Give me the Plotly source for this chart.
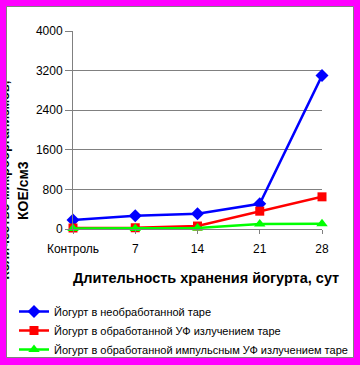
import plotly.graph_objects as go

categories = ["Контроль", "7", "14", "21", "28"]
untreated = [180, 270, 310, 510, 3100]
uv_treated = [20, 25, 60, 360, 650]
pulse_uv_treated = [10, 10, 20, 100, 105]
series_names = [
    "Йогурт в необработанной таре",
    "Йогурт в обработанной УФ излучением таре",
    "Йогурт в обработанной импульсным УФ излучением таре",
]
y_ticks = [0, 800, 1600, 2400, 3200, 4000]

W, H = 360, 365
L, R, T, B = 73, 322, 31, 229  # plot area in px

def px_x(px):
    return (px - L) / (R - L)

def px_y(py):
    return (B - py) / (B - T)

fig = go.Figure()
fig.add_trace(go.Scatter(x=categories, y=untreated, name=series_names[0], mode="lines+markers",
                         line=dict(color="#0000FF", width=2.5),
                         marker=dict(symbol="diamond", size=10, color="#0000FF"), cliponaxis=False))
fig.add_trace(go.Scatter(x=categories, y=uv_treated, name=series_names[1], mode="lines+markers",
                         line=dict(color="#FF0000", width=2.5),
                         marker=dict(symbol="square", size=9, color="#FF0000"), cliponaxis=False))
fig.add_trace(go.Scatter(x=categories, y=pulse_uv_treated, name=series_names[2], mode="lines+markers",
                         line=dict(color="#00FF00", width=2.5),
                         marker=dict(symbol="triangle-up", size=10, color="#00FF00"), cliponaxis=False))

shapes = [
    # white inner panel with grey frame
    dict(type="rect", xref="paper", yref="paper", layer="below",
         x0=px_x(6.5), x1=px_x(353.5), y0=px_y(357.5), y1=px_y(6.5),
         fillcolor="white", line=dict(color="#808080", width=1)),
    # clipped first line of y-axis title
    dict(type="rect", xref="paper", yref="paper", layer="above",
         x0=px_x(-12), x1=px_x(18), y0=px_y(190), y1=px_y(170),
         line=dict(width=0), fillcolor="rgba(0,0,0,0)",
         label=dict(text="<b>Количество микроорганизмов,</b>", textangle=-90, textposition="middle center",
                    font=dict(family="Liberation Sans", size=13, color="black"))),
    # magenta border overlay on the left to clip text
    dict(type="rect", xref="paper", yref="paper", layer="above",
         x0=px_x(-5), x1=px_x(6.5), y0=px_y(370), y1=px_y(-5),
         fillcolor="#FF00FF", line=dict(width=0)),
    dict(type="line", xref="paper", yref="paper", layer="above",
         x0=px_x(6.5), x1=px_x(6.5), y0=px_y(357.5), y1=px_y(6.5),
         line=dict(color="#808080", width=1)),
]

annotations = [
    dict(text="<b>КОЕ/см3</b>", xref="paper", yref="paper", x=px_x(23), y=px_y(191),
         textangle=-90, showarrow=False, xanchor="center", yanchor="middle",
         font=dict(family="Liberation Sans", size=14, color="black")),
    dict(text="<b>Длительность хранения йогурта, сут</b>", xref="paper", yref="paper",
         x=px_x(206), y=px_y(278), showarrow=False, xanchor="center", yanchor="middle",
         font=dict(family="Liberation Sans", size=14.5, color="black")),
]

fig.update_layout(
    width=W, height=H,
    margin=dict(l=L, r=W - R, t=T, b=H - B, pad=0, autoexpand=False),
    paper_bgcolor="#FF00FF",
    plot_bgcolor="white",
    font=dict(family="Liberation Sans", size=12, color="black"),
    showlegend=True,
    legend=dict(x=px_x(14), y=px_y(297),
                xanchor="left", yanchor="top", bgcolor="rgba(0,0,0,0)",
                font=dict(family="Liberation Sans", size=11, color="black"),
                tracegroupgap=0, itemwidth=30),
    shapes=shapes,
    annotations=annotations,
)
fig.update_xaxes(type="category", range=[0, 4], showgrid=False, showline=True,
                 linecolor="#808080", linewidth=1, ticks="outside", ticklen=4,
                 tickcolor="#808080", tickfont=dict(size=12), zeroline=False,
                 ticklabelstandoff=5)
fig.update_yaxes(range=[0, 4000], tickvals=y_ticks, showgrid=True, gridcolor="#808080",
                 gridwidth=1, showline=True, linecolor="#808080", linewidth=1,
                 ticks="outside", ticklen=7, tickcolor="#808080", tickfont=dict(size=12),
                 zeroline=False)

fig.write_html("out.html", config={"displayModeBar": False},
               post_script="document.body.style.margin='0';")
